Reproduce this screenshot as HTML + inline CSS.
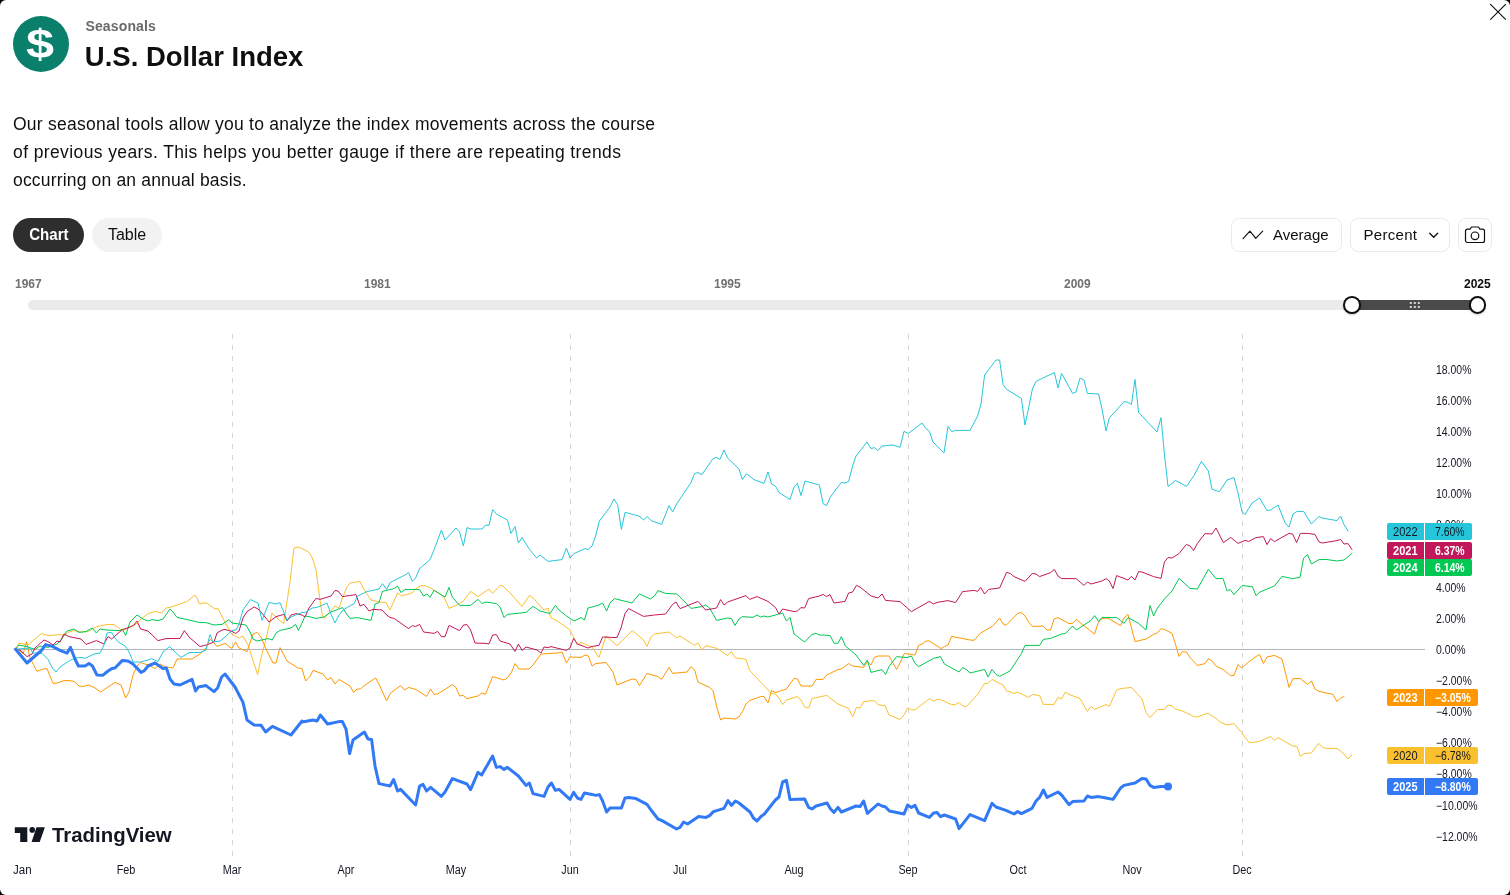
<!DOCTYPE html>
<html><head><meta charset="utf-8"><title>Seasonals</title>
<style>
*{box-sizing:border-box;margin:0;padding:0}
html,body{width:1510px;height:895px;overflow:hidden;background:#000}
body{font-family:"Liberation Sans",sans-serif;color:#131722}
#win{position:absolute;left:0;top:0;width:1510px;height:895px;background:#fff;border-radius:6px;overflow:hidden;will-change:transform}
.abs{position:absolute}
#logo{left:13px;top:16px;width:56px;height:56px;border-radius:50%;background:#0a7f6c;color:#fff;font-weight:bold;font-size:42px;line-height:56px;text-align:center}
#sub{left:85.4px;top:18px;font-size:14px;letter-spacing:0.15px;font-weight:bold;color:#6a6a6a;line-height:17px;white-space:nowrap}
#title{left:84.8px;top:40.5px;font-size:27.5px;font-weight:bold;color:#0f0f0f;line-height:32px;white-space:nowrap}
#desc{left:13px;top:110px;font-size:17.5px;line-height:28px;color:#0f0f0f;white-space:nowrap}
.pill{position:absolute;top:218px;height:34px;border-radius:17px;font-size:16px;line-height:34px;text-align:center}
#pchart{left:13px;width:71px;background:#2e2e2e;color:#fff;font-weight:bold}
#ptable{left:92px;width:70px;background:#f2f2f2;color:#0f0f0f}
.btn{position:absolute;top:218px;height:34px;border:1px solid #ebebeb;border-radius:8px;background:#fff;font-size:15px;line-height:32px;color:#0f0f0f}
.yr{position:absolute;top:276.5px;font-size:12px;font-weight:bold;color:#707070;line-height:14px}
#track{left:28px;top:300px;width:1456px;height:10px;border-radius:5px;background:#ebebeb}
#range{left:1352px;top:300px;width:125px;height:10px;background:#4a4a4a}
.knob{position:absolute;top:296px;width:17.6px;height:17.6px;border-radius:50%;background:#fff;border:2px solid #0f0f0f;box-shadow:0 1px 2px rgba(0,0,0,0.18)}
.yl{position:absolute;left:1435.6px;font-size:12px;transform:scaleX(0.87);transform-origin:0 50%;line-height:14px;color:#131722;white-space:nowrap}
.ml{position:absolute;top:862.5px;font-size:12px;line-height:14px;color:#131722;white-space:nowrap}
.tag{position:absolute;height:17px;font-size:12px;line-height:19px;overflow:hidden;text-align:center;white-space:nowrap}
#tvtext{left:52px;top:823px;font-size:20.4px;font-weight:bold;line-height:24px;color:#131722;letter-spacing:0px;white-space:nowrap}
</style></head><body>
<div id="win">
<div id="logo" class="abs"><span style="display:inline-block;transform:translate(-0.6px,0.4px) scale(1.2,0.98)">$</span></div>
<div id="sub" class="abs">Seasonals</div>
<div id="title" class="abs">U.S. Dollar Index</div>
<div id="desc" class="abs"><span style="letter-spacing:0.256px">Our seasonal tools allow you to analyze the index movements across the course</span><br><span style="letter-spacing:0.393px">of previous years. This helps you better gauge if there are repeating trends</span><br><span style="letter-spacing:0.174px">occurring on an annual basis.</span></div>

<div id="pchart" class="pill"><span style="display:inline-block;transform:scaleX(0.94)">Chart</span></div>
<div id="ptable" class="pill">Table</div>

<div class="btn" style="left:1231px;width:111px"><svg class="abs" style="left:10px;top:10px" width="22" height="12" viewBox="0 0 22 12"><path d="M1.1 9.7 L7.9 2.2 L13.8 9.3 L20.7 2.2" fill="none" stroke="#0f0f0f" stroke-width="1.15" stroke-linejoin="round" stroke-linecap="round"/></svg><span class="abs" style="left:41px;top:0">Average</span></div>
<div class="btn" style="left:1350px;width:100px"><span class="abs" style="left:12.5px;top:0;letter-spacing:0.3px">Percent</span><svg class="abs" style="left:77px;top:13px" width="12" height="8" viewBox="0 0 12 8"><path d="M1.7 1.3 L5.7 5.3 L9.7 1.3" fill="none" stroke="#0f0f0f" stroke-width="1.3" stroke-linejoin="round" stroke-linecap="round"/></svg></div>
<div class="btn" style="left:1458px;width:34px"><svg class="abs" style="left:4.6px;top:7px" width="22" height="18" viewBox="0 0 22 18"><path d="M1.5 5.2 a2 2 0 0 1 2-2 h2.6 l1.4-2.2 h7 l1.4 2.2 h2.6 a2 2 0 0 1 2 2 v9.3 a2 2 0 0 1-2 2 h-15 a2 2 0 0 1-2-2 z" fill="none" stroke="#0f0f0f" stroke-width="1.2" stroke-linejoin="round"/><circle cx="11" cy="9.8" r="3.8" fill="none" stroke="#0f0f0f" stroke-width="1.2"/></svg></div>

<div class="yr" style="left:15px">1967</div>
<div class="yr" style="left:364px">1981</div>
<div class="yr" style="left:714px">1995</div>
<div class="yr" style="left:1064px">2009</div>
<div class="yr" style="left:1464px;color:#0f0f0f">2025</div>
<div id="track" class="abs"></div>
<div id="range" class="abs"></div>
<svg class="abs" style="left:1409px;top:301px" width="12" height="8" viewBox="0 0 12 8"><g fill="#d6d6d6"><rect x="0.8" y="1" width="2" height="2"/><rect x="4.8" y="1" width="2" height="2"/><rect x="8.8" y="1" width="2" height="2"/><rect x="0.8" y="5" width="2" height="2"/><rect x="4.8" y="5" width="2" height="2"/><rect x="8.8" y="5" width="2" height="2"/></g></svg>
<div class="knob" style="left:1343.05px"></div>
<div class="knob" style="left:1468.55px"></div>

<svg class="abs" style="left:0;top:0" width="1510" height="895" viewBox="0 0 1510 895">
<g stroke="#d6d6d6" stroke-width="1" stroke-dasharray="5 6" fill="none">
<line x1="232.5" y1="334" x2="232.5" y2="856"/>
<line x1="570.5" y1="334" x2="570.5" y2="856"/>
<line x1="908.5" y1="334" x2="908.5" y2="856"/>
<line x1="1242.5" y1="334" x2="1242.5" y2="856"/>
</g>
<line x1="13.5" y1="649.5" x2="1425" y2="649.5" stroke="#b2b5be" stroke-width="1"/>
<polyline points="15.6,649.2 19,643 28,645 35,639 41.4,633.6 48,635.6 60,634.6 64,635.6 69,632 74,630.4 80,632 88,631.4 95,627.4 102,625.4 109,624.4 114,624.6 119,628 122.4,631 128,628 135,625 140,620 148,613.6 155,611.4 161.6,613 166,608 170,607.4 187,601.6 195,595 197,598 199.4,604 206,602.6 215,609 218,608.6 226,624 232,634.4 239,638 243,636 248,645 257.6,674.6 261,658 266,639 272,613 279,620 283.6,623.6 290,582 294,548 298,547 305,550 309,552.4 312.4,558 316,570 320,600 322.4,616 324.4,618.4 327,615 335,606 339,608 343,596 347,587 350,583 360,581.4 363,588 367,594 371,600 379,602 386,602.6 390,610 394,601 397.6,593 401.6,596 412,593 416,588.6 420,586 423.6,585.4 430,587.6 438,592.6 444,597 449,608.4 456,605.6 463.4,601 470.6,591.4 478,596.6 489,589 492.6,593.4 500,585.4 503,586 511,594 522,606.4 529.6,595.4 533,598 544,610 548,608 551,618 556,620 570,630 574,638 577.4,645 581,642.4 592,647 599,657.4 606,636 617,645.6 632.4,630.6 643.6,640 647,646.4 651,637 654.4,634 669,632 676.6,638 680,636 694.6,645.4 698,643 702,650 705.6,645.6 717,648.4 727.6,655.6 731.4,651.6 735,657.6 746,659.4 749.6,670.4 771.6,693.6 775.4,694 779,698 782.6,704.6 786.4,700 797.4,696.6 801,700 804.6,707 808.6,708 812,698.6 826.6,695.4 838,704 848.6,708.4 852.6,717 856.4,707.4 860,708 863.6,701.6 874.4,700.6 878,704.6 882,705.4 885,705.6 889,715 900,719.4 904.4,714.4 907.6,708 911.4,709.6 915,710 929.4,698.6 933.6,701 937,699.6 940.4,699.6 951.6,704.6 955.6,704.6 959,702.4 962.6,706 966.6,706.4 977.6,694.4 984.6,683.4 988,683.4 992,679.4 1003,685 1006.6,691 1010,691.6 1014,693.6 1017.6,692 1028.6,697.4 1032.4,694.4 1039.6,695.6 1043.4,704.4 1054,704.4 1058,697.4 1061.6,699 1065.4,692 1069,694.4 1080,698.6 1087.4,711.4 1091,706.4 1094.6,709.4 1106,704.6 1109.4,706.4 1116.6,690 1120.6,688.6 1131.4,687.4 1142,699 1146,712.4 1150,717.6 1157.4,709.6 1164.4,709.4 1168,705 1172,706 1175.4,709 1182.6,711 1194,716.6 1197.4,717 1205,714 1208.4,713.4 1216,718.4 1220,722 1227,725 1234,723.6 1241.6,732.6 1249,742.4 1252.4,742.6 1259.6,741.4 1270.6,736.4 1274.4,740.4 1278,737.6 1292.6,746 1297,746.4 1300.4,756.4 1304,753.6 1311.4,753 1318.6,743.4 1322.4,747 1326,748.4 1337,748.4 1344,754 1348,759 1352,755" fill="none" stroke="#fbc02d" stroke-width="1" stroke-linejoin="round" stroke-linecap="round"/>
<polyline points="15.6,649.2 19,650 23,654 26.6,641.6 30,658 37,671.4 43,669 47,668.6 53,683.4 57,683 64,680.6 69,680.6 74,681.4 79,686 83,686.4 89,685 95,688 100.6,692 108,687 115,682.4 121,685 125.6,698 129,692 133,675 137,666 140.6,662.6 148,665 155,668.6 160,664 166,667 173,668 177,659 184,659 192,659 200,654 206,648 210,639.4 212.4,641 217,646.4 225,643.4 232,648.6 235.6,642 239,648 247,651.6 253,634 257,632.4 261,637 266,649 273,663 276,663 280,647.6 287,661 298,668 302,668.6 305.6,681 309.6,677 313,670.4 323,674 327.6,680 331,677.4 335,684 339,679.4 350,686 353.6,692.4 357,689 360.4,689 365,685 375.6,678 379,684 386.6,701 390.6,693 400.6,685.6 404.6,690 408.6,687.4 415.6,689.4 426.6,696.4 430.6,689 434,694.4 437.6,694 452.4,684.6 456,687.4 459.6,696 463,695.4 467,698.6 478,696 482,693 485.4,694.4 492.6,676.6 504,680 508,677.4 511.6,672 515,663.6 519,669 529,669 533,665 541,654 558,653 562,652 566.4,663 570,657 581,657.4 585,655 588.4,656 592,666 595.6,663.6 606,662.4 613,672 617,685 632,679 636,679.4 639.4,685.6 647,673.4 658,676.6 661.6,679.4 669,667.4 672.6,673.4 687,672 691,666.6 694.6,670 698,682 702,684 709.6,687.4 713,690.6 717,708 720.6,720 724,718 735,719 739,717 742.4,711.6 746,704 749.6,700.6 760.6,696.6 764,696.4 768,703 771.6,690.4 775.4,692.6 786.4,689 794,678.4 797.4,679 801,686 812,686 816,679.4 823,679.4 826.6,675 838,669.6 841.4,669 848.6,663.6 852.6,666 863.6,667.4 867.4,662 871,665 874.4,657.4 878,656 882,656 889,656 896.6,669.4 900,663 904.4,653.4 915,655 918.6,645.4 922,644 926,641 929.4,641 941,648.6 944.4,646.6 948,645 951.6,636.4 970,640 974,640.4 980.6,633 992,626.6 996,622.4 999.6,618 1003,624 1006,625.4 1017.6,613.6 1021.4,612.4 1025,616 1029,622.6 1032.4,626.4 1043,626 1047,630 1050.6,630 1054,619 1058,617.6 1069,623.6 1072.6,623.4 1076.4,619.4 1080,622.6 1094.6,634 1098.6,621.6 1102,618.6 1106,618 1109.4,619 1120.6,625.6 1124,618 1128,614.4 1135,641.6 1146,639 1153.6,634.4 1157.4,633 1161,628.6 1164.4,629.4 1172,633.4 1175.4,644 1179,656.4 1182.6,651.6 1186.4,652 1190,657.4 1197.4,665.4 1205,663.6 1208.4,658.6 1212,661 1216,666 1223,669.4 1230.6,675.6 1234,675.4 1238,664.4 1241.6,668 1248.6,662 1256,656.6 1259.6,654.4 1263.4,663.6 1267,657 1274.4,655.4 1282,659 1289,687.4 1293,678.6 1300,678.4 1307.6,684.4 1311.4,681 1315,689 1319,691.4 1333,694.4 1337,701.6 1340.6,698 1344,696.6" fill="none" stroke="#ff9800" stroke-width="1" stroke-linejoin="round" stroke-linecap="round"/>
<polyline points="15.6,649.2 19,645 26,646.4 35,649.4 40,646 48,647.4 57,644 61,640 67,631 74,629 79,632.4 86,631.6 92.4,628 96.4,633 100,629 106,630 120,630.6 122.4,629 125.6,635.6 130,622 137,615 143,619 148,621 152,619.6 158,620.6 163,619 170,609 173,612 177,617.4 187,619.6 200,622.6 206,622.6 214,625 222,624.4 229,619.6 232,623 246,625 250,632 253,639 257,641 268,638.6 272.4,640 276,633 280,630.4 291,628 295.6,624.4 298.4,630.4 302,623 305,616 309,616.6 316,618.4 324,617 331,612 342.4,607.6 346,613 350,618.4 357.6,617.6 371,620.4 375,604 379,602.6 382.4,591.4 394,588.6 397.6,586 401,592.6 405,589.4 419.6,589.6 423.6,596 427,594 430,597.4 434,590.4 445,597 449,587.4 452.4,597.4 459.6,605.4 470.6,605.4 478,599.4 482,603.6 486,602 496.4,603.6 500,607 504,617.6 507.4,614.4 526,612.4 533,606.4 540,611 550,613.6 555.4,605.4 559,610 566.4,616 574,621 581,617.6 584.4,620 588,608 592,607 599,605 602.6,603 606.6,611 610,603 614.4,598.6 632,603 639.4,594 650.4,599 654.4,596 658,590.6 665.6,593.4 676.6,594 680,597 691,608.4 702,606.6 705.6,605 709.6,608 716.6,620.4 727.6,618 731.4,618.6 735,625.4 739,619 742.4,616.6 753,617.4 757,615 760.6,617 764,616 768,617 782.6,613 786.4,621 790,617.4 794,634 804.6,642 812,634.4 816,633.4 819.4,635 830,635.4 834,643 838,643.4 841.4,636.6 845.4,646 856,655 863.6,665.4 867.4,660 871,672.4 882,669.6 885.6,674.4 889,666.6 896.6,656.6 907,657.6 911.4,656 915,663.4 918.6,666.6 933.6,658.4 940.4,656.6 944.4,664 959,672 962.6,667.6 966.6,669.6 970,673 984.6,669.4 988,677 992,669.4 996,674.4 999.6,676.4 1010,671 1021.4,653.6 1025,645.4 1039.6,645.4 1043.4,639.4 1050.6,638.4 1061.6,634 1065.4,633.6 1072.6,626 1076.4,630 1091,620.4 1094.6,615.6 1098.6,621.4 1102,617.4 1116.6,617.6 1120.6,620.4 1124,623.4 1128,617.6 1138.6,623.4 1146,630 1150,605.4 1153.6,616 1157.4,608 1164.4,599 1172,591 1179,578.4 1190,588.4 1197.4,589 1208.4,569.4 1216,578.6 1223,578.4 1227,591 1230,589.4 1234,594.6 1242,585.6 1252.4,586.6 1256,595.6 1260,592 1274.4,586 1282,576.4 1292.6,578.6 1300,577.4 1303.6,558 1307.6,554.6 1311.4,564 1319,559.6 1326,559.4 1337,561 1344,560 1352,553.4" fill="none" stroke="#00c853" stroke-width="1" stroke-linejoin="round" stroke-linecap="round"/>
<polyline points="15.6,649.2 20,650 27,656.6 32,654 35,648 44,640 48,641.6 53,645 57,641 60,642 64,634 69,636.6 81,639 86,644.4 96.4,640.6 104,644 108,636.6 111.6,639 122.4,629.6 130,627 134,625 137,621 140.6,629 148,631 158,640.6 166,638.6 180,638.4 184.4,630.6 189,637 200,646.6 206,645 210,643.6 214,642 217,633 222,630 225,629.4 229,630.6 232,631.4 235.6,633.4 239,631 243,618 247,611.6 254,607 258,609 261,612 269,622 276,616.6 284,614.4 287,621 291,615 296,613.6 302,615 305,617 309,608 316,598.4 320,599.4 331,596 335,590.6 338,591 342.4,596.6 356,594.6 360,606 364,604.4 369,611 373,609.4 382,610 386.6,615 390,617.4 394,618.4 408.6,628.6 412.4,625.6 415.6,626.6 419.6,624.4 423.6,632 434,633.4 437.6,631.4 441.4,636.6 445,636.6 449,625.4 459.6,630.6 463.4,625 467,624.6 470.6,630 475,643 486,643.4 489,644 492.6,635 496.4,634.6 500,641 510,644 515,651.4 518.4,644 522,650.4 526,647 537,650 541,653 544,647 548,647.6 551,646.6 566.4,650.4 570,648 573.6,638.4 577.4,644 588,648 592,646.4 599,645.4 602.6,637 617,637.6 621,628 625,613.6 628.6,608.6 643.6,616.4 654.4,615 665.6,614 672.6,604.4 676,602 680,608.6 698,601.4 705.6,610 716.6,608 720.6,599.6 724,605 727.6,602 746,595.6 749.6,599.4 757,596.6 768,601.4 775.4,607.4 779,614 782.6,609 794,611.6 797.4,611 801,607.6 804.6,608 808.6,598.6 819.4,596 823,594.4 826.6,596.6 830,594.6 834,603 845,601.4 848.6,593 852.6,592 856.4,585.4 860,587 871,596 878,598 882,594 885.6,600.4 900,601.6 911.4,611.6 929.4,601.4 933.6,604 937,602.4 948,600.6 955.6,602.6 962.6,591.6 974,590.4 977.6,591.4 980.6,587.4 984.6,594 988.6,589.4 999.6,588 1006.6,572.4 1010.6,573.6 1014,576.6 1025,581.4 1032.4,573.4 1036,574 1039.6,576.6 1050.6,572.6 1054.4,569.4 1058,576 1061.6,578.6 1076,578.6 1084,585.4 1087.4,582 1091,584 1102,581 1106,578.6 1109.4,581 1113,588.6 1116.6,575.6 1128,580 1131.4,576.4 1135,580 1138.6,571.6 1142,572 1153.6,576.6 1161,578.4 1164.4,562 1168,557.6 1172,558 1179,553.6 1186.4,544.4 1190,546 1193.6,550.6 1197.4,543.4 1205,533.6 1212,534 1216,528 1223.4,542.6 1230.6,537.4 1238,543.4 1245,540.4 1248.6,541.4 1256,537.6 1263.4,536.6 1267,544.6 1270.6,538.6 1274.4,541.6 1289,533.4 1292.6,534 1296.6,542.6 1300.4,533.4 1307.6,533.4 1315,534.4 1319,542 1322.4,543 1337,540.6 1340.6,539.4 1344,544 1348,543.6 1352,549.6" fill="none" stroke="#c2185b" stroke-width="1" stroke-linejoin="round" stroke-linecap="round"/>
<polyline points="15.6,649.2 23,648.6 30,648 33,653 37,653 42,653.4 48,659.4 52.4,668 56,672 60,667 69,661 75,658 82,657.4 85,658.4 94,654 100,653 104,645 107,633 111.6,632.4 116,639.6 119,642.4 125.6,646.4 130,654 133,662 140.6,662 148,660 151.4,658.6 158,661.6 163,652 169.6,646.6 174,651 181,657.4 189,652.6 200,652.4 206,650 210,634.6 213,642 220,641 225,637 232,630.4 236,630 239,624 243,610 250.4,599.6 258,603 262,620.4 269,602.4 276,604 280,602.6 287,620.4 291,617 302,612.4 305,612.6 312.4,608 317,607.4 327,603 331,614 335,623 339,615 343,610 354,603.6 357.6,596 367,591.6 379,589 382.4,583.6 386.6,589.4 390,582.6 405,575 408.6,572.6 412.4,581.4 415.6,578 419.6,568.6 430,559.6 434,550 441.4,530 445,540 456,528 459.6,532 463.4,546 467,527.6 471,529 482,529 485.6,525 489,525.4 492.6,509.6 496.4,514 507.4,520 511,533.4 515,526.6 518.4,543 522,537.4 529.6,549.6 536.6,558 540,555 548,561.4 562,559.6 566.4,548 570,558 574,553.6 585,548.6 588,549.6 592,546 595.6,536 599.4,521 610,507 614,499 617.6,504.6 621.4,529.4 625,512.4 639,516 643.6,520 647,516.4 651,520.6 661.6,524.4 669,505.6 672.6,512 676.6,504 691,482.6 694.6,473.6 698,472.6 702,474.6 713,458.6 716.6,457.4 720,459.4 724,450 727.6,458 739,469 742.4,479.6 746.4,473.6 754,479.6 764,483.4 768,472 771.6,484 775.4,486 779,492.4 790,499.6 794,487 797.4,483.4 801,495.6 805,481 819.4,485 823,503.6 826.6,505.6 830.6,496.6 841.4,482.4 845,483 848.6,481.6 852.6,466 856,456 867,442 871,448.6 874.4,447.6 878,450.6 882,446 893,445 900,447.4 904,431.4 908.4,433.4 922,423 926,428.6 929.4,431.4 933,442 944,453 948,426.4 951.6,431.6 955.6,430.4 970,430.4 977.6,416 981,404 984.6,375 996,360 999.6,360 1003,384.4 1006.6,389.4 1021.4,398.4 1025,425 1029,406 1032.4,389 1036,381.4 1047,376 1054.4,372.6 1058,388 1061.6,373.4 1072.6,393.4 1076,392 1080,378 1084,380 1087.4,393.4 1098.6,394 1102,409 1106,431 1109.4,417.6 1113,414 1124,401.6 1128,402.4 1131.4,404.6 1135,379.4 1138.6,412.4 1157,432 1161,417.6 1164.4,454 1168,486.4 1172,483.6 1175.4,480.4 1186.4,486.4 1194,475.6 1201.4,461.4 1208.4,471 1212,489.4 1219.4,491.6 1227,480 1234,477.6 1238,493 1242,511.6 1245,514.6 1252,503 1259.6,498 1267,510.6 1270.6,510 1278,505 1285.4,523.6 1289,527 1293,514 1296.6,511.6 1303.6,511.4 1311.4,524 1319,516.4 1322,518 1337,520.6 1340.6,516 1344,524.6 1348,531" fill="none" stroke="#26c6da" stroke-width="1" stroke-linejoin="round" stroke-linecap="round"/>
<polyline points="15.6,649.2 27,663 35,656 41,651 45.6,644.6 52.4,646.4 60,650.4 67,653.2 70.4,647.4 75,659 78.4,666 85,666 89,663.4 92.4,666 97,675 103,675.2 108,671 112,668.4 115,668 122.4,660.4 128,661 133,664 141,672.4 144,671 148,666 155,663 163,668.4 166.4,668 170,679 174,684 180,685 192,679.4 195.6,691 198.4,687 206,685.6 214,691.6 217.6,688 221.6,677 225,674 235,687 243,702.4 247,720 254,725 261,725.2 265.6,732 272.4,726.4 291,735 302,721 302.4,722 313,720 317,721 320.4,715 327.6,724 339,721.6 342.4,721.6 346,729 349.6,753.6 353,740 364.4,732 368,739 371.6,739.4 375,766 379,783.6 390,786 393.6,779.6 397.6,791 400.6,789.4 415.6,805 419.6,786 423,784.4 426.6,791 430.6,787.4 441.4,796.4 445,792 452.4,778.6 467,784 470.6,789.6 478,772.4 481.6,775 492.6,756 496.4,767.4 500,766.6 504,769.4 507.4,767.4 518.4,776 526,785.4 529.4,783 533,793.6 544,796.4 548,787 551.4,783 555.4,790.4 559,789.4 570,799.4 573.6,792.4 577.4,798 581,799.4 584.4,793 592,794.4 595.6,795.4 599.4,794.6 602.6,801 606.6,812 610,808 621.4,808 625,798 628.6,797.6 636,798.6 647,804.4 651,810 658,819 661.6,820.4 676.6,829 680,827.4 683.6,822 687.6,824 698.6,816.6 706,817.4 709.6,815.6 713.4,811.6 724,808.4 728,800.6 731.4,805.4 735.4,801 739,803 750,812 753.4,818 757,821 761,816.4 764.4,814 775.4,800 779,797 782.6,782 786.4,780.4 790,799.4 804.6,799 808.6,807.4 812,809 816,806 827,803 830.6,809 834,812.4 838,807.4 841.4,812 856,806 860,806.6 863.6,801 867.4,813.4 878,804 882,806 885.6,807 889.4,811 904,814 907.6,805 911.4,807.4 915,805.4 918.6,813 929.4,817.4 933.6,813 937,812.4 940.4,816.6 944.4,815 955.6,819 959,828.6 970,814.6 984.6,820.6 992,803.4 996,807 1006.6,810.6 1014,814 1017.6,811.6 1021.4,813.6 1032,808.4 1036,801 1039.6,797.4 1043.4,790 1047,797.4 1058,792 1061.6,795 1069,804.6 1072.6,801.6 1084,801 1087.4,796 1091,797.4 1098.6,796.6 1106,798 1113,799.4 1120.6,788 1124,785.4 1135,783 1142,778.6 1146,779 1150,785.4 1153.6,787.4 1161,786.6 1168,786.4" fill="none" stroke="#3179f5" stroke-width="3" stroke-linejoin="round" stroke-linecap="round"/>

<circle cx="1168" cy="786.4" r="4" fill="#3179f5"/>
<g fill="#131722">
<path d="M14.8 827.2 H27.3 V841.9 H20.2 V833 H14.8 Z"/>
<circle cx="32.2" cy="829.9" r="2.8"/>
<path d="M36.5 827.2 H44.9 L39.7 841.9 H31.6 Z"/>
</g>
<path d="M1490.3 4.2 L1505.8 19.7 M1505.8 4.2 L1490.3 19.7" stroke="#0f0f0f" stroke-width="1.15" fill="none"/>
</svg>
<div id="tvtext" class="abs">TradingView</div>
<div class="yl" style="top:362.5px">18.00%</div>
<div class="yl" style="top:393.6px">16.00%</div>
<div class="yl" style="top:424.8px">14.00%</div>
<div class="yl" style="top:455.9px">12.00%</div>
<div class="yl" style="top:487.1px">10.00%</div>
<div class="yl" style="top:518.2px">8.00%</div>
<div class="yl" style="top:549.3px">6.00%</div>
<div class="yl" style="top:580.5px">4.00%</div>
<div class="yl" style="top:611.6px">2.00%</div>
<div class="yl" style="top:642.8px">0.00%</div>
<div class="yl" style="top:673.9px">−2.00%</div>
<div class="yl" style="top:705.0px">−4.00%</div>
<div class="yl" style="top:736.2px">−6.00%</div>
<div class="yl" style="top:767.3px">−8.00%</div>
<div class="yl" style="top:798.5px">−10.00%</div>
<div class="yl" style="top:829.6px">−12.00%</div>

<div class="tag" style="top:523px;left:1387px;width:37px;background:#26c6da;color:#131722;border-radius:2px 0 0 2px;font-weight:normal"><span style="display:inline-block;transform:scaleX(0.92)">2022</span></div><div class="tag" style="top:523px;left:1425px;width:47px;background:#26c6da;color:#131722;border-radius:0 2px 2px 0;text-align:left;padding-left:10.3px;font-weight:normal"><span style="display:inline-block;transform:scaleX(0.87);transform-origin:0 50%">7.60%</span></div>
<div class="tag" style="top:542px;left:1387px;width:37px;background:#c2185b;color:#fff;border-radius:2px 0 0 2px;font-weight:bold"><span style="display:inline-block;transform:scaleX(0.92)">2021</span></div><div class="tag" style="top:542px;left:1425px;width:47px;background:#c2185b;color:#fff;border-radius:0 2px 2px 0;text-align:left;padding-left:10.3px;font-weight:bold"><span style="display:inline-block;transform:scaleX(0.87);transform-origin:0 50%">6.37%</span></div>
<div class="tag" style="top:559px;left:1387px;width:37px;background:#00c853;color:#fff;border-radius:2px 0 0 2px;font-weight:bold"><span style="display:inline-block;transform:scaleX(0.92)">2024</span></div><div class="tag" style="top:559px;left:1425px;width:47px;background:#00c853;color:#fff;border-radius:0 2px 2px 0;text-align:left;padding-left:10.3px;font-weight:bold"><span style="display:inline-block;transform:scaleX(0.87);transform-origin:0 50%">6.14%</span></div>
<div class="tag" style="top:689px;left:1387px;width:37px;background:#ff9800;color:#fff;border-radius:2px 0 0 2px;font-weight:bold"><span style="display:inline-block;transform:scaleX(0.92)">2023</span></div><div class="tag" style="top:689px;left:1425px;width:53px;background:#ff9800;color:#fff;border-radius:0 2px 2px 0;text-align:left;padding-left:10.3px;font-weight:bold"><span style="display:inline-block;transform:scaleX(0.87);transform-origin:0 50%">−3.05%</span></div>
<div class="tag" style="top:747px;left:1387px;width:37px;background:#fbc02d;color:#131722;border-radius:2px 0 0 2px;font-weight:normal"><span style="display:inline-block;transform:scaleX(0.92)">2020</span></div><div class="tag" style="top:747px;left:1425px;width:53px;background:#fbc02d;color:#131722;border-radius:0 2px 2px 0;text-align:left;padding-left:10.3px;font-weight:normal"><span style="display:inline-block;transform:scaleX(0.87);transform-origin:0 50%">−6.78%</span></div>
<div class="tag" style="top:778px;left:1387px;width:37px;background:#3179f5;color:#fff;border-radius:2px 0 0 2px;font-weight:bold"><span style="display:inline-block;transform:scaleX(0.92)">2025</span></div><div class="tag" style="top:778px;left:1425px;width:53px;background:#3179f5;color:#fff;border-radius:0 2px 2px 0;text-align:left;padding-left:10.3px;font-weight:bold"><span style="display:inline-block;transform:scaleX(0.87);transform-origin:0 50%">−8.80%</span></div>

<div class="ml" style="left:12.7px;transform:scaleX(0.96);transform-origin:0 50%">Jan</div>
<div class="ml" style="left:105.5px;width:40px;text-align:center;transform:scaleX(0.9)">Feb</div>
<div class="ml" style="left:212px;width:40px;text-align:center;transform:scaleX(0.9)">Mar</div>
<div class="ml" style="left:326px;width:40px;text-align:center;transform:scaleX(0.9)">Apr</div>
<div class="ml" style="left:435.5px;width:40px;text-align:center;transform:scaleX(0.9)">May</div>
<div class="ml" style="left:550px;width:40px;text-align:center;transform:scaleX(0.9)">Jun</div>
<div class="ml" style="left:660px;width:40px;text-align:center;transform:scaleX(0.9)">Jul</div>
<div class="ml" style="left:773.5px;width:40px;text-align:center;transform:scaleX(0.9)">Aug</div>
<div class="ml" style="left:887.5px;width:40px;text-align:center;transform:scaleX(0.9)">Sep</div>
<div class="ml" style="left:997.5px;width:40px;text-align:center;transform:scaleX(0.9)">Oct</div>
<div class="ml" style="left:1111.5px;width:40px;text-align:center;transform:scaleX(0.9)">Nov</div>
<div class="ml" style="left:1221.5px;width:40px;text-align:center;transform:scaleX(0.9)">Dec</div>

</div>
</body></html>
